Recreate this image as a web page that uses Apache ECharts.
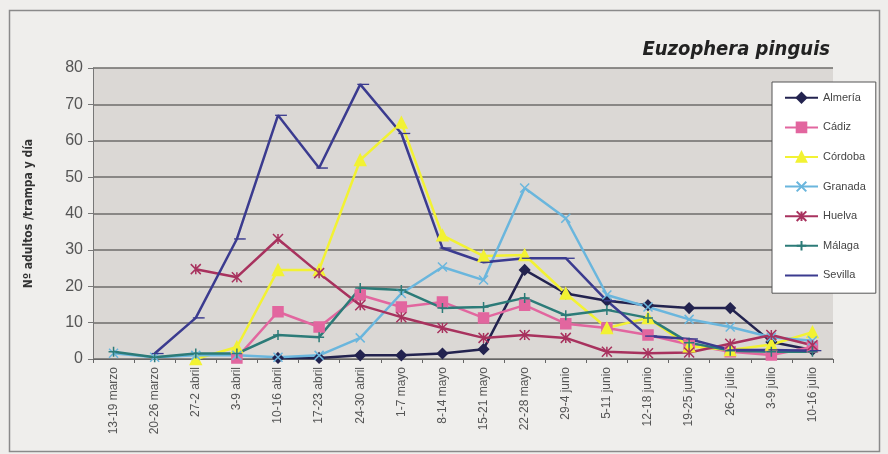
<!DOCTYPE html>
<html>
<head>
<meta charset="utf-8">
<script src="https://cdn.jsdelivr.net/npm/echarts@6/dist/echarts.min.js"></script>
<style>
  html, body { margin: 0; padding: 0; background: #efeeec; }
  #chart { width: 888px; height: 454px; }
</style>
</head>
<body>
<div id="chart"></div>
<script>
// semanas de muestreo
const categories = ["13-19 marzo", "20-26 marzo", "27-2 abril", "3-9 abril", "10-16 abril", "17-23 abril",
  "24-30 abril", "1-7 mayo", "8-14 mayo", "15-21 mayo", "22-28 mayo", "29-4 junio", "5-11 junio",
  "12-18 junio", "19-25 junio", "26-2 julio", "3-9 julio", "10-16 julio"];

// Nº adultos /trampa y día por provincia
const almeria = [null, null, null, null, 0.3, 0.3, 1, 1, 1.5, 2.7, 24.5, 18, 16, 14.8, 14, 14, 4.7, 2.5];
const cadiz = [null, null, null, 0.3, 13, 8.8, 17.6, 14.3, 15.7, 11.3, 14.8, 9.7, 8.5, 6.6, 4, 2, 1.1, 3.3];
const cordoba = [null, null, 0, 3.3, 24.5, 24.5, 54.7, 65, 34, 28.3, 28.6, 18, 8.5, 11.3, 3.5, 2.5, 4, 7.4];
const granada = [1.6, 0.5, 1, 1, 0.5, 1, 5.8, 18, 25.3, 21.7, 47, 38.7, 17.6, 14.3, 10.9, 8.8, 6, 5];
const huelva = [null, null, 24.7, 22.5, 33, 23.6, 14.8, 11.5, 8.5, 5.8, 6.6, 5.8, 2, 1.6, 1.8, 4.2, 6.6, 3.8];
const malaga = [2, 0.5, 1.5, 1.5, 6.6, 6, 19.5, 19, 14, 14.3, 16.8, 12, 13.5, 11.3, 4.5, 2.3, 2, 2];
const sevilla = [null, 1.5, 11.3, 33, 67, 52.5, 75.5, 62, 30.5, 26.6, 27.7, 27.7, 16, 6.3, 5.5, 2.5, 2.5, 2.3];

const yTicks = [0, 10, 20, 30, 40, 50, 60, 70, 80];

const chart = echarts.init(document.getElementById("chart"));

function serie(name, data, color, symbol, size, extra) {
  return Object.assign({
    name: name,
    type: "line",
    data: data,
    symbol: symbol,
    symbolSize: size,
    showAllSymbol: true,
    connectNulls: false,
    lineStyle: { color: color, width: 2.5 },
    itemStyle: { color: color, borderColor: color, borderWidth: 1.5 },
    emphasis: { disabled: true },
    z: 3,
  }, extra || {});
}

chart.setOption({
  backgroundColor: "#efeeec",
  animation: false,
  title: {
    text: "Euzophera pinguis",
    right: 53,
    top: 35,
    textStyle: {
      fontFamily: "DejaVu Sans Condensed, Liberation Sans Narrow, sans-serif",
      fontStyle: "italic",
      fontWeight: "bold",
      fontSize: 20,
      color: "#222",
    },
  },
  legend: {
    orient: "vertical",
    left: 772,
    top: 82,
    width: 96,
    height: 212,
    padding: [10, 10, 12, 12],
    itemWidth: 33,
    itemHeight: 12,
    itemGap: 18,
    backgroundColor: "#ffffff",
    borderColor: "#555",
    borderWidth: 1,
    textStyle: { fontSize: 11, color: "#444", fontFamily: "Liberation Sans Narrow, Liberation Sans, sans-serif" },
    data: ["Almería", "Cádiz", "Córdoba", "Granada", "Huelva", "Málaga",
      { name: "Sevilla", itemStyle: { opacity: 0 } }],
  },
  graphic: [
    {
      type: "rect",
      shape: { x: 9.5, y: 10.5, width: 870, height: 441 },
      style: { fill: null, stroke: "#8a8a8a", lineWidth: 1.5 },
      z: -1,
    },
  ],
  grid: {
    left: 93,
    right: 55,
    top: 68,
    bottom: 95,
    show: true,
    backgroundColor: "#dbd8d5",
    borderWidth: 0,
  },
  xAxis: {
    type: "category",
    data: categories,
    boundaryGap: true,
    axisLine: { lineStyle: { color: "#666", width: 1 } },
    axisTick: { show: true, inside: false, length: 4, alignWithLabel: false, lineStyle: { color: "#666" } },
    axisLabel: {
      rotate: 90,
      interval: 0,
      margin: 8,
      fontSize: 12,
      color: "#555",
      fontFamily: "Liberation Sans, Arial, sans-serif",
    },
    splitLine: { show: false },
  },
  yAxis: {
    type: "value",
    min: 0,
    max: yTicks[yTicks.length - 1],
    interval: yTicks[1] - yTicks[0],
    name: "Nº adultos /trampa y día",
    nameLocation: "middle",
    nameGap: 58,
    nameTextStyle: {
      fontFamily: "DejaVu Sans Condensed, Liberation Sans Narrow, sans-serif",
      fontWeight: "bold",
      fontSize: 12,
      color: "#333",
    },
    axisLine: { show: true, lineStyle: { color: "#777", width: 1 } },
    axisTick: { show: true, length: 5, lineStyle: { color: "#777" } },
    axisLabel: {
      fontSize: 16,
      color: "#555",
      margin: 10,
      fontFamily: "Liberation Sans, Arial, sans-serif",
    },
    splitLine: { show: true, lineStyle: { color: "#6e6c6a", width: 1.5 } },
  },
  series: [
    serie("Almería", almeria, "#23234f", "diamond", 10),
    serie("Cádiz", cadiz, "#e2669f", "rect", 10),
    serie("Córdoba", cordoba, "#f2f233", "triangle", 11),
    serie("Granada", granada, "#6ab6dd", "path://M0,0L10,10M10,0L0,10", 9),
    serie("Huelva", huelva, "#a8325e", "path://M0,0L10,10M10,0L0,10M5,0L5,10", 10),
    serie("Málaga", malaga, "#2c7b78", "path://M5,0L5,10M0,5L10,5", 10),
    serie("Sevilla", sevilla, "#3b3b8f", "path://M0,0L10,0L10,2L0,2Z", [9, 2.5],
      { symbolOffset: [3, 0], symbolKeepAspect: true }),
  ],
});
</script>
</body>
</html>
